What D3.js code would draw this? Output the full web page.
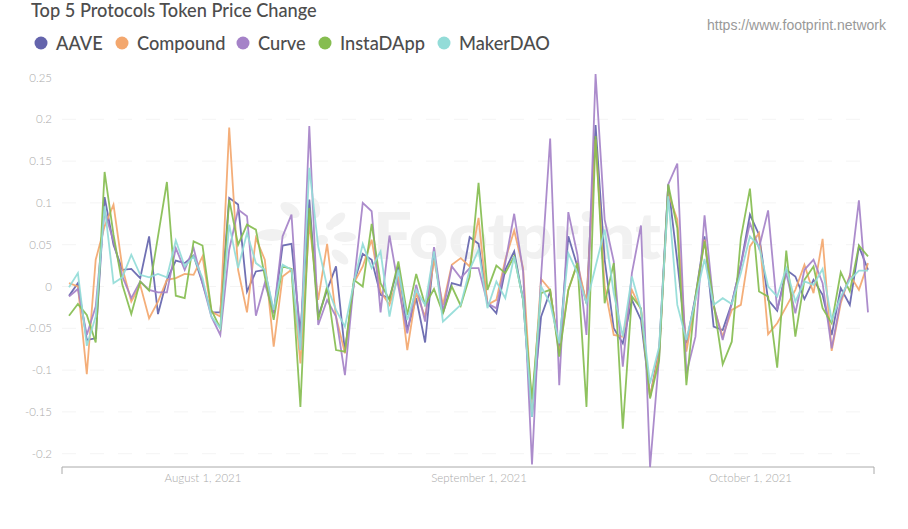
<!DOCTYPE html>
<html>
<head>
<meta charset="utf-8">
<script src="https://cdn.jsdelivr.net/npm/d3@7"></script>
<style>
  html, body { margin: 0; padding: 0; background: #fff; overflow: hidden; }
  text { font-family: Lato, sans-serif; }
</style>
</head>
<body>
<svg id="chart" width="908" height="529"></svg>
<script>
var seriesNames = ['AAVE', 'Compound', 'Curve', 'InstaDApp', 'MakerDAO'];
var seriesColors = ['#6464ac', '#f3a76e', '#a582c8', '#86bd50', '#93dcd8'];

// daily values, 90 points starting 2021-07-17
var aave = [-0.011, 0.004, -0.064, -0.062, 0.107, 0.05, 0.02, 0.021, 0.01, 0.06, -0.033, 0.008, 0.031, 0.028, 0.037, 0.004, -0.031, -0.031, 0.106, 0.098, -0.006, 0.018, 0.02, -0.032, 0.049, 0.051, -0.056, 0.104, -0.036, -0.004, 0.024, -0.078, 0.004, 0.039, 0.032, -0.01, -0.014, 0.024, -0.052, -0.014, -0.067, 0.04, -0.032, 0.004, 0.001, 0.059, 0.051, -0.02, -0.032, 0.02, 0.042, -0.016, -0.156, -0.036, -0.006, -0.076, 0.06, 0.024, -0.02, 0.193, 0.032, -0.05, -0.068, -0.016, -0.04, -0.132, -0.076, 0.122, 0.03, -0.068, -0.012, 0.06, -0.048, -0.052, -0.02, 0.026, 0.086, 0.062, -0.016, -0.029, 0.02, 0.012, -0.015, 0.008, -0.01, -0.058, -0.002, -0.022, 0.048, 0.02];
var compound = [0.004, 0, -0.105, 0.032, 0.072, 0.098, 0.022, -0.018, 0.002, -0.038, -0.018, 0.008, 0.01, 0.015, 0.014, 0.036, -0.03, -0.036, 0.19, 0.02, -0.031, 0.058, 0.032, -0.072, 0.012, 0.02, -0.092, 0.076, -0.016, 0.051, -0.036, -0.08, 0.004, 0.024, 0.056, -0.006, -0.022, 0.012, -0.076, -0.008, -0.036, 0.032, -0.022, 0.026, 0.034, 0.024, 0.082, -0.022, -0.016, 0.032, 0.067, 0.022, -0.15, 0.009, -0.004, -0.08, -0.004, 0.028, -0.02, 0.176, 0, -0.058, -0.06, -0.004, -0.028, -0.132, -0.08, 0.112, 0.08, -0.078, -0.016, 0.056, -0.024, -0.06, -0.028, -0.022, 0.048, 0.064, -0.057, -0.044, -0.024, -0.004, 0.026, -0.008, 0.057, -0.077, -0.02, 0.014, -0.004, 0.028];
var curve = [-0.012, -0.003, -0.058, -0.024, 0.09, 0.054, 0.012, -0.014, 0.006, -0.004, -0.007, -0.007, 0.046, 0.02, 0.046, 0.004, -0.036, -0.058, 0.044, 0.092, 0.084, -0.035, 0.004, -0.032, 0.06, 0.086, -0.076, 0.192, -0.046, -0.016, -0.036, -0.106, 0.004, 0.1, 0.09, -0.031, 0.061, 0, -0.056, 0.002, -0.042, 0.047, -0.03, 0.024, 0.01, 0.022, 0.022, -0.02, -0.026, 0.028, 0.087, 0.018, -0.213, 0.012, 0.177, -0.118, 0.089, 0.038, -0.058, 0.254, 0.08, 0.03, -0.096, 0.016, 0.073, -0.216, -0.084, 0.122, 0.147, -0.104, -0.06, 0.085, -0.022, -0.064, -0.02, 0.026, 0.076, 0.046, 0.091, -0.028, 0.016, -0.032, 0.02, 0.032, 0.004, -0.074, -0.016, 0.012, 0.103, -0.031];
var instaDApp = [-0.035, -0.021, -0.034, -0.067, 0.137, 0.062, 0.002, -0.033, 0.006, -0.005, 0.06, 0.125, -0.011, -0.014, 0.054, 0.049, -0.028, -0.05, 0.104, 0.05, 0.074, 0.068, 0.012, -0.04, 0.024, 0.021, -0.144, 0.094, -0.04, 0, -0.076, -0.078, 0.008, 0, 0.075, 0.004, -0.016, 0.03, -0.034, 0.015, -0.022, -0.003, -0.032, 0, -0.023, 0.012, 0.124, -0.004, 0.025, 0.016, 0.036, -0.016, -0.135, -0.008, -0.004, -0.084, -0.004, 0.028, -0.144, 0.18, -0.02, 0.028, -0.17, -0.012, -0.026, -0.134, -0.088, 0.122, 0.07, -0.118, -0.012, 0.054, -0.02, -0.093, -0.066, 0.058, 0.117, -0.006, -0.012, -0.097, 0.043, -0.06, 0.008, 0.024, -0.026, -0.044, 0.017, -0.006, 0.049, 0.036];
var makerDAO = [-0.001, 0.016, -0.071, -0.036, 0.096, 0.004, 0.011, 0.038, 0.014, 0.011, 0.015, 0.011, 0.055, 0.024, 0.036, 0.01, -0.036, -0.05, 0.074, 0.022, 0.064, 0.028, 0.02, -0.028, 0.026, 0.02, -0.076, 0.142, 0.048, 0, -0.028, -0.048, 0.004, 0.051, 0.022, 0.042, -0.036, 0.02, -0.04, -0.004, -0.022, 0.042, -0.042, -0.032, -0.022, 0.02, 0.044, -0.026, 0.006, -0.014, 0.036, -0.016, -0.156, 0, -0.02, -0.068, 0.04, 0.016, -0.02, 0.024, 0.068, -0.008, -0.06, 0.012, -0.028, -0.116, -0.072, 0.108, -0.022, -0.064, -0.016, 0.033, -0.022, -0.014, -0.021, 0.016, 0.06, 0.048, 0, -0.012, 0.022, -0.018, 0.006, 0.002, 0.021, -0.04, -0.012, 0.008, 0.019, 0.019];
var allSeries = [aave, compound, curve, instaDApp, makerDAO];

var yTicks = [0.25, 0.2, 0.15, 0.1, 0.05, 0, -0.05, -0.1, -0.15, -0.2];
var xTicks = ['2021-08-01', '2021-09-01', '2021-10-01'];

var svg = d3.select('#chart');
var parseDay = d3.utcParse('%Y-%m-%d');
var startDay = parseDay('2021-07-17');
var days = d3.utcDay.range(startDay, d3.utcDay.offset(startDay, aave.length));

var x = d3.scaleUtc()
  .domain([days[0], days[27], days[52], days[89]])
  .range([69, 309.3, 532, 868]);
var y = d3.scaleLinear().domain([0, 0.25]).range([286.5, 77.5]);

// faint watermark behind everything
var mark = svg.append('g').attr('fill', '#f1f1f1');
[[272, 235, 15, 6, 0], [290, 210, 11, 6, 35], [315, 208, 10, 5, 80], [337, 220, 10, 5, -40], [345, 237, 11, 5, 0], [340, 257, 10, 5, 40], [330, 226, 4, 4, 0], [322, 240, 6, 5, 0]]
  .forEach(function(p) {
    mark.append('ellipse')
      .attr('rx', p[2]).attr('ry', p[3])
      .attr('transform', 'translate(' + p[0] + ',' + p[1] + ') rotate(' + p[4] + ')');
  });
mark.append('text')
  .attr('x', 373).attr('y', 259)
  .attr('font-size', 64).attr('font-weight', 900)
  .attr('textLength', 288).attr('lengthAdjust', 'spacingAndGlyphs')
  .text('Footprint');

// grid
svg.append('g').selectAll('line')
  .data(yTicks.slice(1))
  .enter().append('line')
  .attr('x1', 62).attr('x2', 874)
  .attr('y1', function(d) { return y(d); })
  .attr('y2', function(d) { return y(d); })
  .attr('stroke', '#f4f4f4')
  .style('stroke-dasharray', '14, 14');

// y axis
var yAxis = svg.append('g')
  .attr('transform', 'translate(52,0)')
  .call(d3.axisLeft(y).tickValues(yTicks).tickSize(0).tickFormat(function(d) { return String(d); }));
yAxis.select('.domain').remove();
yAxis.selectAll('text')
  .attr('x', 0)
  .attr('fill', '#aaa')
  .style('font-family', 'Lato, sans-serif')
  .style('font-weight', 300)
  .style('font-size', '11.5px');

// x axis
var xAxis = svg.append('g')
  .attr('transform', 'translate(0,467)')
  .call(d3.axisBottom(x).tickValues(xTicks.map(parseDay)).tickSize(0).tickPadding(7)
    .tickFormat(d3.utcFormat('%B %-d, %Y')));
xAxis.select('.domain').remove();
xAxis.selectAll('text')
  .attr('fill', '#aaa')
  .style('font-family', 'Lato, sans-serif')
  .style('font-weight', 300)
  .style('font-size', '11.5px');

svg.append('path')
  .attr('d', 'M62,474V467H874V474')
  .attr('fill', 'none')
  .attr('stroke', '#aaa');

// lines
var line = d3.line()
  .x(function(d, i) { return x(days[i]); })
  .y(function(d) { return y(d); });

svg.append('g').selectAll('path')
  .data(allSeries)
  .enter().append('path')
  .attr('d', line)
  .attr('fill', 'none')
  .attr('stroke', function(d, i) { return seriesColors[i]; })
  .attr('stroke-width', 1.8)
  .attr('stroke-opacity', 0.92)
  .attr('stroke-linejoin', 'miter');

// title, legend, source
svg.append('text')
  .attr('x', 31).attr('y', 17)
  .attr('font-size', 18.2).attr('font-weight', 500)
  .attr('fill', '#4d4d4d')
  .text('Top 5 Protocols Token Price Change');

var legendDots = [41, 122, 243, 325, 444];
var legend = svg.append('g').selectAll('g')
  .data(seriesNames)
  .enter().append('g')
  .attr('transform', function(d, i) { return 'translate(' + legendDots[i] + ',43)'; });
legend.append('circle')
  .attr('r', 6.5)
  .attr('fill', function(d, i) { return seriesColors[i]; });
legend.append('text')
  .attr('x', 15).attr('y', 6.5)
  .attr('font-size', 18.2).attr('font-weight', 500)
  .attr('fill', '#4d4d4d')
  .text(function(d) { return d; });

svg.append('text')
  .attr('x', 886).attr('y', 30)
  .attr('text-anchor', 'end')
  .attr('font-size', 14)
  .style('font-family', '"Liberation Sans", sans-serif')
  .attr('fill', '#999')
  .text('https://www.footprint.network');
</script>
</body>
</html>
